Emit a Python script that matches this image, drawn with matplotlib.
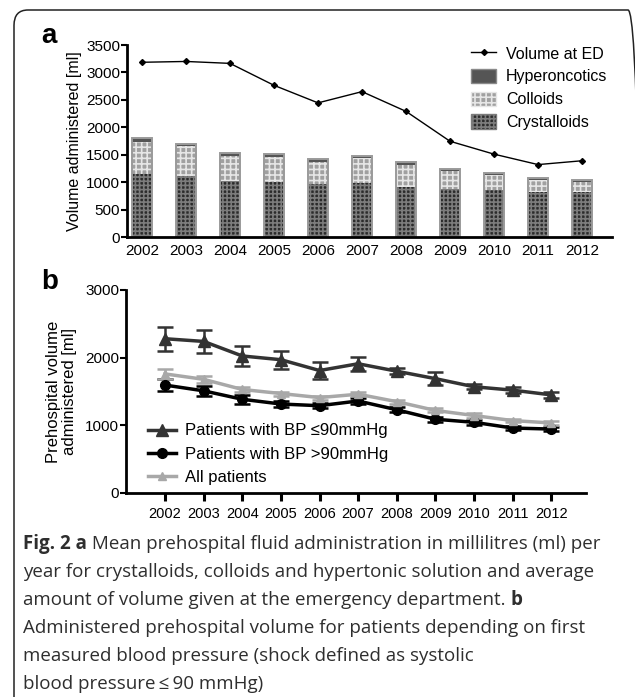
import matplotlib
matplotlib.use("Agg")
import matplotlib.pyplot as plt
from matplotlib.patches import Patch, FancyBboxPatch
from matplotlib.lines import Line2D

plt.rcParams['font.family'] = ['Liberation Sans', 'DejaVu Sans']
plt.rcParams['hatch.linewidth'] = 1.2

# panel a data
years = [2002, 2003, 2004, 2005, 2006, 2007, 2008, 2009, 2010, 2011, 2012]
crystalloids = [1140, 1110, 1025, 995, 965, 980, 920, 880, 850, 820, 820]
colloids = [600, 540, 455, 460, 411, 457, 396, 315, 272, 217, 187]
hyperoncotics = [60, 48, 48, 49, 43, 43, 48, 42, 42, 36, 36]
volume_ed = [3185, 3200, 3165, 2765, 2445, 2650, 2290, 1745, 1510, 1320, 1390]

# panel b data
bp_low = [2280, 2240, 2025, 1970, 1810, 1910, 1800, 1690, 1570, 1520, 1450]
bp_low_err = [180, 165, 150, 135, 120, 105, 40, 100, 40, 40, 40]
bp_high = [1595, 1510, 1385, 1315, 1290, 1360, 1230, 1090, 1045, 960, 945]
bp_high_err = [90, 70, 70, 40, 40, 40, 40, 40, 40, 30, 30]
all_pts = [1760, 1680, 1530, 1470, 1410, 1460, 1350, 1220, 1145, 1070, 1035]
all_err = [75, 50, 40, 30, 30, 30, 30, 30, 30, 25, 25]

W, H = 635, 697
fig = plt.figure(figsize=(W / 100, H / 100), dpi=100)


def px_axes(l, t, r, b):
    return fig.add_axes([l / W, 1 - b / H, (r - l) / W, (b - t) / H])


# rounded frame (right side runs just off the canvas)
frame = FancyBboxPatch((14 / W, -0.05), (628 / W), 1 - 10 / H + 0.05,
                       boxstyle="round,pad=0,rounding_size=0.022",
                       transform=fig.transFigure, fill=False,
                       edgecolor='#222222', linewidth=1.1)
fig.patches.append(frame)

# ---- panel a ----
axa = px_axes(127, 45, 612, 237)
bw = 0.44
bot2 = list(crystalloids)
bot3 = [c + k for c, k in zip(crystalloids, colloids)]
axa.bar(years, crystalloids, bw, color='#2b2b2b', edgecolor='#7c7c7c', hatch='++++', linewidth=0)
axa.bar(years, colloids, bw, bottom=bot2, color='#a0a0a0', edgecolor='#e6e6e6', hatch='+++', linewidth=0)
axa.bar(years, hyperoncotics, bw, bottom=bot3, color='#555555', linewidth=0)
tot = [a + b for a, b in zip(bot3, hyperoncotics)]
axa.bar(years, tot, bw, fill=False, edgecolor='#9a9a9a', linewidth=1.4)
axa.plot(years, volume_ed, color='black', lw=1.0, marker='D', ms=3)

axa.set_xlim(2001.66, 2012.68)
axa.set_ylim(0, 3500)
axa.set_yticks(range(0, 3501, 500))
axa.set_xticks(years)
axa.tick_params(axis='x', length=0, labelsize=11, pad=5)
axa.tick_params(axis='y', length=4, width=1.5, labelsize=11, pad=1)
for s in ['top', 'right']:
    axa.spines[s].set_visible(False)
for s in ['left', 'bottom']:
    axa.spines[s].set_linewidth(2)
axa.set_ylabel('Volume administered [ml]', fontsize=11.5, labelpad=3)

hand_a = [Line2D([], [], color='black', lw=1.0, marker='D', ms=3),
          Patch(facecolor='#555555', edgecolor='#8a8a8a'),
          Patch(facecolor='#a0a0a0', edgecolor='#e6e6e6', hatch='+++'),
          Patch(facecolor='#2b2b2b', edgecolor='#7c7c7c', hatch='++++')]
axa.legend(hand_a, ['Volume at ED', 'Hyperoncotics', 'Colloids', 'Crystalloids'],
           loc='upper right', bbox_to_anchor=(1.02, 1.07), frameon=False,
           fontsize=11.5, handlelength=1.6, handleheight=1.0,
           labelspacing=0.45, handletextpad=0.6)

fig.text(41 / W, 1 - 36 / H, 'a', fontsize=20, fontweight='bold', va='center')

# ---- panel b ----
axb = px_axes(126, 290, 586, 493)
kw = dict(lw=2.5, capsize=5.5, capthick=1.8, elinewidth=1.8)
axb.errorbar(years, bp_low, yerr=bp_low_err, color='#333333', marker='^', ms=8, **kw)
axb.errorbar(years, bp_high, yerr=bp_high_err, color='black', marker='o', ms=7, **kw)
axb.errorbar(years, all_pts, yerr=all_err, color='#a8a8a8', marker='^', ms=6, **kw)

hand_b = [Line2D([], [], color='#333333', lw=2.5, marker='^', ms=8),
          Line2D([], [], color='black', lw=2.5, marker='o', ms=7),
          Line2D([], [], color='#a8a8a8', lw=2.5, marker='^', ms=6)]
axb.legend(hand_b, ['Patients with BP \u226490mmHg', 'Patients with BP >90mmHg', 'All patients'],
           loc='lower left', bbox_to_anchor=(0.015, -0.035), frameon=False,
           fontsize=12, handlelength=1.7, labelspacing=0.5, handletextpad=0.5)

axb.set_xlim(2000.99, 2012.9)
axb.set_ylim(0, 3000)
axb.set_yticks([0, 1000, 2000, 3000])
axb.set_xticks(years)
axb.tick_params(axis='x', length=6, width=2.2, labelsize=10.5, pad=4)
axb.tick_params(axis='y', length=4, width=1.5, labelsize=11, pad=1)
for s in ['top', 'right']:
    axb.spines[s].set_visible(False)
for s in ['left', 'bottom']:
    axb.spines[s].set_linewidth(2)
axb.set_ylabel('Prehospital volume\nadministered [ml]', fontsize=12, labelpad=6,
               linespacing=1.05)

fig.text(41 / W, 1 - 282 / H, 'b', fontsize=20, fontweight='bold', va='center')

# ---- caption ----
cap_lines = [
    [('Fig. 2 a', True), (' Mean prehospital fluid administration in millilitres (ml) per', False)],
    [('year for crystalloids, colloids and hypertonic solution and average', False)],
    [('amount of volume given at the emergency department. ', False), ('b', True)],
    [('Administered prehospital volume for patients depending on first', False)],
    [('measured blood pressure (shock defined as systolic', False)],
    [('blood pressure\u2009\u2264\u200990 mmHg)', False)],
]
renderer = fig.canvas.get_renderer()
y0 = 544
for i, runs in enumerate(cap_lines):
    x = 23
    for txt, bold in runs:
        t = fig.text(x / W, 1 - (y0 + 28 * i) / H, txt, fontsize=13.5,
                     family=['Open Sans', 'DejaVu Sans'],
                     fontweight='bold' if bold else 'normal',
                     color='#2e2e2e', va='center', ha='left')
        x += t.get_window_extent(renderer).width

fig.savefig('out.png', dpi=100)
